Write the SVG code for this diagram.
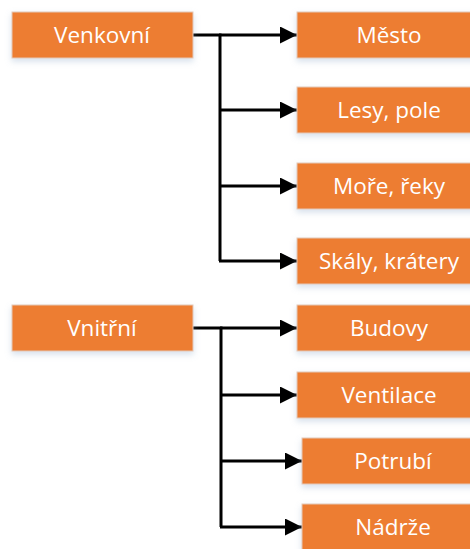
<svg xmlns="http://www.w3.org/2000/svg" width="470" height="549" viewBox="0 0 470 549">
  <style>
    .box { fill: #ED7D31; stroke: #e3c9b8; stroke-width: 1; filter: url(#shadow); }
    .lbl { fill: #ffffff; font-family: "Open Sans", "Noto Sans", "Liberation Sans", sans-serif; font-size: 22.5px; text-anchor: middle; }
    .wire { fill: none; stroke: #000000; stroke-width: 3; }
  </style>
  <defs>
    <filter id="shadow" x="-10%" y="-20%" width="120%" height="160%">
      <feDropShadow dx="0" dy="3" stdDeviation="3" flood-color="#8aa6c8" flood-opacity="0.35"/>
    </filter>
    <marker id="arrow" markerUnits="userSpaceOnUse" markerWidth="18" markerHeight="18" refX="17" refY="8.5" orient="auto">
      <path d="M0,0 L17,8.5 L0,17 Z" fill="#000000"/>
    </marker>
  </defs>

  <rect width="470" height="549" fill="#ffffff"/>

  <!-- connectors -->
  <g id="connectors">
    <path class="wire" d="M193,35 H220 V261"/>
    <path class="wire" d="M219,35 H297" marker-end="url(#arrow)"/>
    <path class="wire" d="M219,110 H297" marker-end="url(#arrow)"/>
    <path class="wire" d="M219,186 H297" marker-end="url(#arrow)"/>
    <path class="wire" d="M219,261 H297" marker-end="url(#arrow)"/>

    <path class="wire" d="M193,328 H221 V527"/>
    <path class="wire" d="M220,328 H297" marker-end="url(#arrow)"/>
    <path class="wire" d="M220,395 H297" marker-end="url(#arrow)"/>
    <path class="wire" d="M220,461 H302" marker-end="url(#arrow)"/>
    <path class="wire" d="M220,527 H302" marker-end="url(#arrow)"/>
  </g>

  <!-- outdoor -->
  <g id="venkovni">
    <rect class="box" x="12" y="12" width="181" height="46"/>
    <text class="lbl" x="102" y="43">Venkovní</text>
  </g>
  <g id="mesto">
    <rect class="box" x="297" y="12" width="184" height="46"/>
    <text class="lbl" x="389" y="43">Město</text>
  </g>
  <g id="lesy-pole">
    <rect class="box" x="297" y="87" width="184" height="46"/>
    <text class="lbl" x="389" y="118">Lesy, pole</text>
  </g>
  <g id="more-reky">
    <rect class="box" x="297" y="163" width="184" height="46"/>
    <text class="lbl" x="389" y="194">Moře, řeky</text>
  </g>
  <g id="skaly-kratery">
    <rect class="box" x="297" y="238" width="184" height="46"/>
    <text class="lbl" x="389" y="269">Skály, krátery</text>
  </g>

  <!-- indoor -->
  <g id="vnitrni">
    <rect class="box" x="12" y="305" width="181" height="46"/>
    <text class="lbl" x="102" y="336">Vnitřní</text>
  </g>
  <g id="budovy">
    <rect class="box" x="297" y="305" width="184" height="46"/>
    <text class="lbl" x="389" y="336">Budovy</text>
  </g>
  <g id="ventilace">
    <rect class="box" x="297" y="372" width="184" height="46"/>
    <text class="lbl" x="389" y="403">Ventilace</text>
  </g>
  <g id="potrubi">
    <rect class="box" x="302" y="438" width="184" height="46"/>
    <text class="lbl" x="393" y="469">Potrubí</text>
  </g>
  <g id="nadrze">
    <rect class="box" x="302" y="504" width="184" height="46"/>
    <text class="lbl" x="393" y="535">Nádrže</text>
  </g>
</svg>
